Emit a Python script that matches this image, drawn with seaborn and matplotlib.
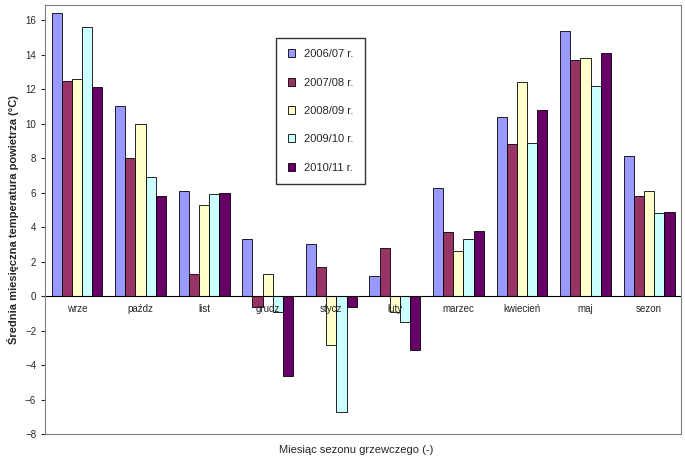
import numpy as np
import pandas as pd
import matplotlib
matplotlib.use("Agg")
import matplotlib.pyplot as plt
import seaborn as sns

months = ["wrze", "paźdz", "list", "grudz", "stycz", "luty", "marzec", "kwiecień", "maj", "sezon"]
seasons = ["2006/07 r.", "2007/08 r.", "2008/09 r.", "2009/10 r.", "2010/11 r."]
s0607 = [16.4, 11.0, 6.1, 3.3, 3.0, 1.2, 6.3, 10.4, 15.4, 8.1]
s0708 = [12.5, 8.0, 1.3, -0.6, 1.7, 2.8, 3.7, 8.8, 13.7, 5.8]
s0809 = [12.6, 10.0, 5.3, 1.3, -2.8, -0.9, 2.6, 12.4, 13.8, 6.1]
s0910 = [15.6, 6.9, 5.9, -0.9, -6.7, -1.5, 3.3, 8.9, 12.2, 4.8]
s1011 = [12.1, 5.8, 6.0, -4.6, -0.6, -3.1, 3.8, 10.8, 14.1, 4.9]
colors = ["#9999FF", "#993366", "#FFFFCC", "#CCFFFF", "#660066"]

rows = []
for name, vals in zip(seasons, [s0607, s0708, s0809, s0910, s1011]):
    for m, v in zip(months, vals):
        rows.append({"month": m, "season": name, "temp": v})
df = pd.DataFrame(rows)

sns.set_style("white")
plt.rcParams['font.family'] = ['Liberation Sans', 'DejaVu Sans']
fig = plt.figure(figsize=(6.85, 4.62), dpi=100)
ax = fig.add_axes([0.066, 0.06, 0.928, 0.93])
sns.barplot(data=df, x="month", y="temp", hue="season", order=months, hue_order=seasons,
            palette=colors, width=0.8, edgecolor="black", linewidth=0.6, ax=ax, saturation=1)
ax.set_ylim(-8, 16.9)
ax.set_yticks(range(-8, 17, 2))
ax.tick_params(axis="y", labelsize=7, length=3, direction="out", left=True)
ax.set_xticks([])
ax.axhline(0, color="black", lw=0.8)
for i, m in enumerate(months):
    ax.text(i, -0.45, m, ha="center", va="top", fontsize=7)
for s in ax.spines.values():
    s.set_color("#808080")
ax.set_xlabel("")
ax.set_ylabel("Średnia miesięczna temperatura powietrza (°C)", fontsize=8, fontweight="bold")
fig.text(0.52, 0.02, "Miesiąc sezonu grzewczego (-)", ha="center", fontsize=8)
leg = ax.legend(loc="upper left", bbox_to_anchor=(0.355, 0.935), fontsize=8, frameon=True,
                fancybox=False, edgecolor="black", labelspacing=1.65, handlelength=0.7,
                handleheight=0.7, borderpad=1.0)
plt.savefig("out.png", dpi=100)
